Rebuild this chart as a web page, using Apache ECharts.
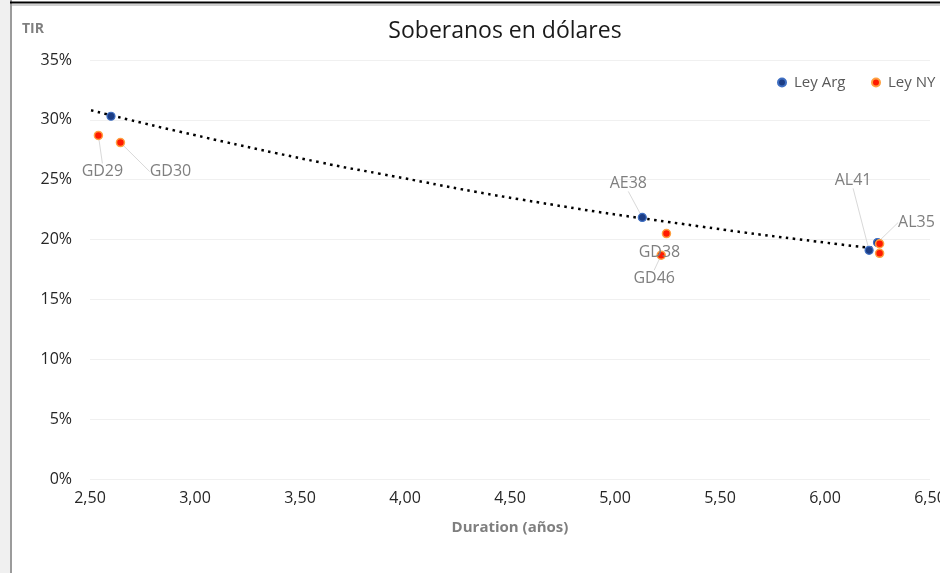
<!DOCTYPE html>
<html>
<head>
<meta charset="utf-8">
<script src="https://cdn.jsdelivr.net/npm/echarts@6/dist/echarts.min.js"></script>
<style>
html,body{margin:0;padding:0;background:#fff;}
#chart{width:940px;height:573px;}
</style>
</head>
<body>
<div id="chart"></div>
<script>
// Data
var titleText = 'Soberanos en dólares';
var seriesNames = ['Ley Arg', 'Ley NY'];
// Ley Arg: duration, TIR %, label
var leyArgDuration = [2.60, 5.13, 6.21, 6.25];
var leyArgTir = [30.3, 21.85, 19.1, 19.75];
var leyArgLabels = ['', 'AE38', 'AL41', 'AL35'];
// Ley NY
var leyNyDuration = [2.54, 2.645, 5.245, 5.22, 6.26, 6.26];
var leyNyTir = [28.7, 28.1, 20.5, 18.7, 19.65, 18.85];
var leyNyLabels = ['GD29', 'GD30', 'GD38', 'GD46', '', ''];
// Dotted trendline points
var trendDuration = [2.505, 2.93, 3.595, 3.88, 4.55, 5.405, 6.07, 6.23];
var trendTir = [30.8, 29.0, 26.45, 25.5, 23.35, 21.1, 19.6, 19.3];
var yTicks = [0, 5, 10, 15, 20, 25, 30, 35];
var xTicks = [2.5, 3.0, 3.5, 4.0, 4.5, 5.0, 5.5, 6.0, 6.5];

// label offsets (style only)
var argOffsets = [[0,0],[-14,-34],[-16,-70],[39,-20]];
var nyOffsets = [[4,36],[50,29],[-7,19],[-7,23],[0,0],[0,0]];
var argLine = [false,true,true,true];
var nyLine = [true,true,false,true,false,false];

function zip(xs, ys, labels, lines) {
  return xs.map(function (x, i) {
    return {
      value: [x, ys[i]],
      label: { show: !!labels[i], formatter: labels[i] },
      labelLine: { show: lines[i] }
    };
  });
}
function trendData() {
  return trendDuration.map(function (x, i) { return [x, trendTir[i]]; });
}

var FONT = 'Open Sans';
var chart = echarts.init(document.getElementById('chart'), null, { renderer: 'canvas' });

var labelCommon = {
  show: true,
  position: 'inside',
  color: '#7f7f7f',
  fontSize: 16,
  fontFamily: FONT
};
var labelLineCommon = { show: true, lineStyle: { color: '#d9d9d9', width: 1 } };

function legendAt(name, left) {
  return {
    data: [name],
    left: left, top: 75, padding: 0,
    icon: 'circle', itemWidth: 8, itemHeight: 8,
    textStyle: { fontFamily: FONT, fontSize: 15, color: '#595959', padding: [0, 0, 0, 3] }
  };
}

chart.setOption({
  animation: false,
  backgroundColor: '#ffffff',
  title: {
    text: titleText,
    left: 500, top: 15, textAlign: 'center',
    textStyle: { fontFamily: FONT, fontSize: 23, fontWeight: 'normal', color: '#1a1a1a' }
  },
  legend: [legendAt(seriesNames[0], 777), legendAt(seriesNames[1], 871)],
  grid: { left: 90, right: 10, top: 60, bottom: 94, outerBoundsMode: 'none', containLabel: false },
  xAxis: {
    type: 'value',
    min: xTicks[0], max: xTicks[xTicks.length - 1], interval: 0.5,
    name: 'Duration (años)', nameLocation: 'middle', nameGap: 41,
    nameTextStyle: { fontFamily: FONT, fontSize: 15, fontWeight: 'bold', color: '#7f7f7f' },
    axisLine: { show: false }, axisTick: { show: false },
    splitLine: { show: false },
    axisLabel: {
      margin: 11, fontFamily: FONT, fontSize: 16, color: '#262626',
      formatter: function (v) { return v.toFixed(2).replace('.', ','); }
    }
  },
  yAxis: {
    type: 'value',
    min: yTicks[0], max: yTicks[yTicks.length - 1], interval: 5,
    axisLine: { show: false }, axisTick: { show: false },
    splitLine: { show: true, lineStyle: { color: '#f0f0f0', width: 1 } },
    axisLabel: {
      margin: 18, fontFamily: FONT, fontSize: 16, color: '#262626',
      formatter: '{value}%'
    }
  },
  graphic: [
    { type: 'rect', shape: { x: 0, y: 0, width: 10, height: 573 }, style: { fill: '#f0f0f0' }, silent: true },
    { type: 'line', shape: { x1: 11, y1: 0, x2: 11, y2: 573 }, style: { stroke: '#7a7a7a', lineWidth: 1.5 }, silent: true },
    { type: 'line', shape: { x1: 10, y1: 2.5, x2: 940, y2: 2.5 }, style: { stroke: '#000000', lineWidth: 2 }, silent: true },
    { type: 'line', shape: { x1: 10, y1: 5, x2: 940, y2: 5 }, style: { stroke: '#a0a0a0', lineWidth: 1 }, silent: true },
    { type: 'text', left: 22, top: 22, style: { text: 'TIR', font: 'bold 14px "Open Sans"', fill: '#7f7f7f' } }
  ],
  series: [
    {
      name: 'trend', type: 'line', data: trendData(), smooth: true,
      symbol: 'none', silent: true, z: 1,
      lineStyle: { color: '#000000', width: 2.5, type: [2.5, 4.5] }
    },
    {
      name: seriesNames[0], type: 'scatter', z: 3,
      data: zip(leyArgDuration, leyArgTir, leyArgLabels, argLine),
      symbolSize: 8,
      itemStyle: { color: '#1c3d85', borderColor: '#3f6fc2', borderWidth: 1.2, opacity: 1 },
      label: labelCommon, labelLine: labelLineCommon,
      labelLayout: function (p) { var o = argOffsets[p.dataIndex]; return { dx: o[0], dy: o[1] }; }
    },
    {
      name: seriesNames[1], type: 'scatter', z: 4,
      data: zip(leyNyDuration, leyNyTir, leyNyLabels, nyLine),
      symbolSize: 8,
      itemStyle: { color: '#ff1a00', borderColor: '#ffa040', borderWidth: 1.5, opacity: 1 },
      label: labelCommon, labelLine: labelLineCommon,
      labelLayout: function (p) { var o = nyOffsets[p.dataIndex]; return { dx: o[0], dy: o[1] }; }
    }
  ]
});
</script>
</body>
</html>
